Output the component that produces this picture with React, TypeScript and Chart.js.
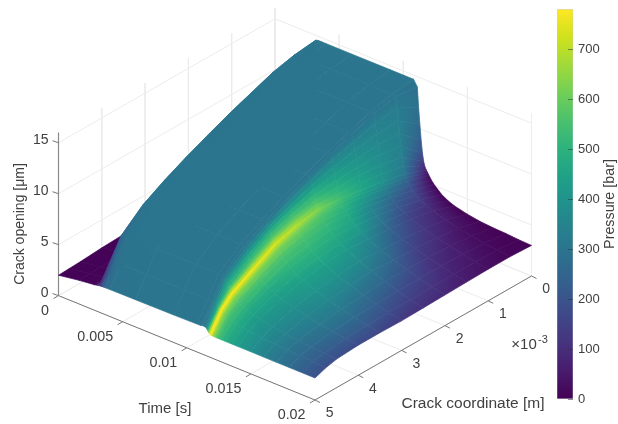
import React, { useEffect, useRef } from "react";
import { Chart, registerables } from "chart.js";

Chart.register(...registerables);

// ---------- data ----------
const crackCoords = [0, 0.5, 1, 1.5, 2, 2.5, 3, 3.5, 4, 4.5, 4.75, 5]; // x 10^-3 m
const timeValues = [
  0, 0.0016, 0.0028, 0.003, 0.0032, 0.0034, 0.0036, 0.004, 0.006, 0.009, 0.0108,
  0.0111, 0.0112, 0.0113, 0.0114, 0.0115, 0.0116, 0.0117, 0.0118, 0.0119,
  0.012, 0.0122, 0.0124, 0.0127, 0.013, 0.0135, 0.014, 0.015, 0.016, 0.017, 0.018, 0.019, 0.02,
];
const openingRows = [
  [2.6, 2.6, 2.55, 2.55, 2.5, 2.45, 2.4, 2.35, 2.25, 2.1, 2.05, 2.0],
  [2.9, 2.9, 2.85, 2.8, 2.8, 2.75, 2.7, 2.6, 2.5, 2.4, 2.36, 2.32],
  [3, 3, 3, 3, 3, 3, 3, 3, 2.9, 2.65, 2.57, 2.5],
  [3, 3, 3, 3, 3, 3, 3, 3, 3, 3, 2.75, 2.55],
  [14.55, 14.3, 13.8, 13, 12.2, 11.3, 10.35, 9.3, 8.1, 6.3, 4.45, 2.6],
  [14.6, 14.35, 13.85, 13.05, 12.25, 11.35, 10.4, 9.35, 8.15, 6.45, 4.55, 2.62],
  [14.6, 14.35, 13.85, 13.05, 12.25, 11.35, 10.4, 9.35, 8.15, 6.45, 4.55, 2.63],
  [14.6, 14.35, 13.85, 13.05, 12.25, 11.35, 10.4, 9.35, 8.15, 6.45, 4.55, 2.65],
  [14.6, 14.35, 13.85, 13.05, 12.25, 11.35, 10.4, 9.35, 8.15, 6.45, 4.55, 2.67],
  [14.6, 14.35, 13.85, 13.05, 12.25, 11.35, 10.4, 9.35, 8.15, 6.45, 4.55, 2.7],
  [14.6, 14.35, 13.85, 13.05, 12.25, 11.35, 10.4, 9.35, 8.15, 6.45, 4.55, 2.74],
  [14.0, 14.3, 13.85, 13.05, 12.25, 11.35, 10.4, 9.35, 8.15, 6.45, 4.55, 2.75],
  [12.0, 13.2, 12.9, 12.3, 11.7, 10.95, 10.1, 9.1, 7.9, 6.3, 4.5, 2.8],
  [10.4, 12.0, 11.9, 11.5, 11.05, 10.5, 9.75, 8.85, 7.65, 6.1, 4.45, 2.8],
  [8.9, 10.8, 10.9, 10.7, 10.4, 10.05, 9.4, 8.6, 7.4, 5.95, 4.4, 2.8],
  [7.7, 9.6, 9.95, 9.95, 9.8, 9.6, 9.05, 8.3, 7.15, 5.75, 4.3, 2.75],
  [6.9, 8.6, 9.0, 9.2, 9.2, 9.2, 8.7, 8.0, 6.85, 5.5, 4.2, 2.6],
  [6.45, 7.7, 8.2, 8.5, 8.65, 8.8, 8.35, 7.7, 6.5, 5.25, 4.1, 2.4],
  [6.2, 7.0, 7.5, 7.9, 8.2, 8.4, 8.0, 7.4, 6.2, 5.0, 4.0, 2.25],
  [6.0, 6.7, 7.2, 7.6, 7.95, 8.2, 7.85, 7.2, 6.05, 4.85, 3.9, 2.2],
  [5.8, 6.45, 6.95, 7.35, 7.7, 8.0, 7.65, 7.05, 5.9, 4.7, 3.7, 2.18],
  [5.4, 6.05, 6.55, 6.95, 7.3, 7.55, 7.3, 6.75, 5.65, 4.5, 3.6, 2.18],
  [5.1, 5.7, 6.25, 6.65, 7.0, 7.2, 7.0, 6.5, 5.45, 4.35, 3.5, 2.17],
  [4.75, 5.4, 5.9, 6.3, 6.6, 6.8, 6.6, 6.15, 5.2, 4.15, 3.4, 2.17],
  [4.4, 5.1, 5.6, 5.95, 6.2, 6.4, 6.2, 5.8, 5.0, 4.0, 3.3, 2.17],
  [4.05, 4.8, 5.25, 5.55, 5.8, 5.95, 5.75, 5.4, 4.7, 3.8, 3.2, 2.17],
  [3.8, 4.55, 4.95, 5.2, 5.4, 5.6, 5.4, 5.05, 4.4, 3.65, 3.1, 2.17],
  [3.5, 4.15, 4.5, 4.7, 4.8, 5.0, 4.8, 4.5, 4.05, 3.4, 2.95, 2.17],
  [3.3, 3.85, 4.15, 4.3, 4.4, 4.5, 4.35, 4.1, 3.75, 3.2, 2.85, 2.16],
  [3.2, 3.6, 3.85, 3.9, 4.0, 4.0, 3.9, 3.75, 3.5, 3.05, 2.75, 2.16],
  [3.15, 3.4, 3.55, 3.6, 3.6, 3.6, 3.5, 3.45, 3.3, 2.95, 2.7, 2.16],
  [3.05, 3.25, 3.3, 3.3, 3.3, 3.25, 3.2, 3.2, 3.1, 2.85, 2.6, 2.16],
  [3.0, 3.1, 3.1, 3.05, 3.0, 2.95, 2.9, 2.95, 2.95, 2.8, 2.55, 2.16],
];
const pressureRows = [
  [4, 4, 4, 4, 4, 4, 4, 4, 4, 4, 4, 4],
  [4, 4, 4, 4, 4, 4, 4, 4, 4, 4, 4, 4],
  [8, 8, 8, 8, 8, 8, 8, 8, 8, 10, 9, 8],
  [300, 300, 300, 300, 300, 300, 300, 300, 300, 150, 80, 50],
  [300, 300, 300, 300, 300, 300, 300, 300, 300, 250, 170, 110],
  [300, 300, 300, 300, 300, 300, 300, 300, 300, 285, 240, 190],
  [300, 300, 300, 300, 300, 300, 300, 300, 300, 298, 285, 250],
  [300, 300, 300, 300, 300, 300, 300, 300, 300, 300, 298, 290],
  [300, 300, 300, 300, 300, 300, 300, 300, 300, 300, 300, 300],
  [300, 300, 300, 300, 300, 300, 300, 300, 300, 300, 300, 300],
  [300, 300, 300, 300, 300, 300, 300, 300, 300, 300, 300, 300],
  [295, 300, 300, 300, 300, 300, 300, 300, 300, 300, 300, 300],
  [285, 325, 335, 345, 350, 355, 350, 340, 330, 325, 310, 300],
  [265, 335, 355, 375, 395, 410, 410, 400, 380, 365, 340, 300],
  [230, 340, 365, 395, 430, 460, 475, 470, 450, 430, 390, 305],
  [190, 340, 375, 415, 460, 505, 525, 520, 500, 475, 440, 350],
  [130, 335, 385, 435, 490, 540, 570, 570, 550, 530, 520, 450],
  [85, 320, 392, 452, 520, 585, 635, 650, 655, 650, 640, 630],
  [60, 300, 395, 465, 540, 630, 690, 735, 760, 778, 775, 760],
  [42, 270, 365, 445, 525, 600, 650, 680, 700, 715, 740, 775],
  [25, 240, 340, 425, 510, 570, 610, 630, 640, 640, 650, 680],
  [15, 205, 300, 395, 490, 540, 575, 590, 590, 585, 590, 610],
  [10, 180, 270, 370, 475, 520, 545, 555, 550, 540, 540, 550],
  [8, 155, 235, 345, 455, 500, 525, 530, 520, 515, 515, 515],
  [6, 140, 210, 330, 440, 480, 500, 500, 480, 480, 480, 480],
  [5, 105, 175, 285, 400, 450, 470, 470, 450, 445, 450, 455],
  [4, 85, 150, 250, 360, 420, 440, 440, 420, 415, 420, 430],
  [4, 60, 120, 195, 300, 370, 395, 400, 385, 375, 380, 385],
  [4, 40, 92, 150, 240, 310, 340, 360, 350, 340, 340, 340],
  [3, 25, 70, 115, 190, 250, 285, 315, 315, 300, 300, 300],
  [3, 20, 55, 90, 150, 190, 230, 265, 275, 265, 268, 270],
  [3, 15, 42, 72, 115, 145, 180, 215, 225, 225, 228, 230],
  [3, 12, 30, 55, 85, 105, 130, 160, 175, 185, 188, 190],
];
const timeTicks = [0, 0.005, 0.01, 0.015, 0.02];
const timeTickLabels = ["0", "0.005", "0.01", "0.015", "0.02"];
const crackTicks = [0, 1, 2, 3, 4, 5];
const openingTicks = [0, 5, 10, 15];
const openingTop = 16;
const pressureMax = 780;
const viridis = [
  "#440154", "#481b6d", "#46337e", "#3f4889", "#365c8d", "#2e6e8e", "#277f8e", "#21908c",
  "#1fa187", "#2db27d", "#4ac16d", "#71cf57", "#a0da39", "#d0e11c", "#fde725",
];

// ---------- 3D view: data -> page position ----------
const project = (t: number, c: number, z: number) => ({
  x: 275 + (256.5 * t) / 0.02 - (216.5 * c) / 5,
  y: 171.6 + (104.4 * t) / 0.02 + (124 * c) / 5 - 10.19 * z,
});

const rgb = (hex: string) => [1, 3, 5].map((i) => parseInt(hex.slice(i, i + 2), 16));
const colorOf = (p: number) => {
  const f = (Math.min(Math.max(p, 0), pressureMax) / pressureMax) * (viridis.length - 1);
  const i = Math.min(Math.floor(f), viridis.length - 2);
  const a = rgb(viridis[i]);
  const b = rgb(viridis[i + 1]);
  const m = a.map((v, k) => Math.round(v + (b[k] - v) * (f - i)));
  return `rgb(${m[0]},${m[1]},${m[2]})`;
};

// colour of one surface cell: the plane through its four corner pressures, as a canvas gradient
const cellPaint = (
  ctx: CanvasRenderingContext2D,
  pts: { x: number; y: number }[],
  ps: number[]
) => {
  const [a, b, c, d] = pts; // a-b: first time, d-c: next time; a-d: first crack, b-c: next crack
  const mean = (ps[0] + ps[1] + ps[2] + ps[3]) / 4;
  const lo = Math.min(...ps);
  const hi = Math.max(...ps);
  if (hi - lo < 0.5) return colorOf(mean);
  const mx = (a.x + b.x + c.x + d.x) / 4;
  const my = (a.y + b.y + c.y + d.y) / 4;
  const ux = (d.x + c.x - a.x - b.x) / 2;
  const uy = (d.y + c.y - a.y - b.y) / 2;
  const vx = (b.x + c.x - a.x - d.x) / 2;
  const vy = (b.y + c.y - a.y - d.y) / 2;
  const dT = (ps[3] + ps[2] - ps[0] - ps[1]) / 2;
  const dC = (ps[1] + ps[2] - ps[0] - ps[3]) / 2;
  const det = ux * vy - uy * vx;
  if (Math.abs(det) < 1) return colorOf(mean);
  const gx = (dT * vy - dC * uy) / det;
  const gy = (-dT * vx + dC * ux) / det;
  const g = Math.hypot(gx, gy);
  if (g < 1e-6) return colorOf(mean);
  const ex = gx / g;
  const ey = gy / g;
  const s = pts.map((q) => (q.x - mx) * ex + (q.y - my) * ey);
  const s0 = Math.min(...s);
  const s1 = Math.max(...s);
  const grad = ctx.createLinearGradient(mx + ex * s0, my + ey * s0, mx + ex * s1, my + ey * s1);
  for (let k = 0; k <= 6; k++) {
    const at = s0 + ((s1 - s0) * k) / 6;
    const val = Math.min(hi, Math.max(lo, mean + g * at));
    grad.addColorStop(k / 6, colorOf(val));
  }
  return grad;
};

const FAMILY = '"Liberation Sans", Arial, sans-serif';
const INK = "#404040";
const GRID = "#ececec";
const AXIS = "#777777";

const putText = (
  c: CanvasRenderingContext2D,
  s: string,
  x: number,
  y: number,
  size = 14,
  align: CanvasTextAlign = "center",
  rot = 0
) => {
  c.save();
  c.translate(x, y);
  c.rotate(rot);
  c.font = `${size}px ${FAMILY}`;
  c.fillStyle = INK;
  c.textAlign = align;
  c.textBaseline = "middle";
  c.fillText(s, 0, 0);
  c.restore();
};

export default function App() {
  const mainRef = useRef<HTMLCanvasElement>(null);
  const barRef = useRef<HTMLCanvasElement>(null);

  useEffect(() => {
    document.body.style.margin = "0";
    const ctx = mainRef.current!.getContext("2d")!;
    const datasets: any[] = [];
    let seq = 0;
    const seg = (pts: { x: number; y: number }[], color: string, width: number) => {
      datasets.push({
        data: pts,
        borderColor: color,
        borderWidth: width,
        pointRadius: 0,
        fill: false,
        order: -seq++,
      });
    };

    // walls and floor
    openingTicks.forEach((z) => {
      seg([project(0, 5, z), project(0, 0, z), project(0.02, 0, z)], GRID, 1);
    });
    crackTicks.forEach((c) => {
      seg([project(0, c, openingTop), project(0, c, 0), project(0.02, c, 0)], GRID, 1);
    });
    timeTicks.forEach((t) => {
      seg([project(t, 0, openingTop), project(t, 0, 0), project(t, 5, 0)], GRID, 1);
    });

    // axes and ticks
    seg([project(0, 5, 0), project(0, 5, openingTop)], "#8a8a8a", 1.2);
    seg([project(0, 5, 0), project(0.02, 5, 0)], AXIS, 1);
    seg([project(0.02, 5, 0), project(0.02, 0, 0)], AXIS, 1);
    openingTicks.forEach((z) => {
      const p = project(0, 5, z);
      seg([p, { x: p.x - 6, y: p.y - 2 }], AXIS, 1);
    });
    timeTicks.forEach((t) => {
      const p = project(t, 5, 0);
      seg([p, { x: p.x - 5, y: p.y + 3 }], AXIS, 1);
    });
    crackTicks.forEach((c) => {
      const p = project(0.02, c, 0);
      seg([p, { x: p.x + 5, y: p.y + 2.5 }], AXIS, 1);
    });

    // surface cells, back to front
    for (let i = 0; i < timeValues.length - 1; i++) {
      for (let j = 0; j < crackCoords.length - 1; j++) {
        const a = project(timeValues[i], crackCoords[j], openingRows[i][j]);
        const b = project(timeValues[i], crackCoords[j + 1], openingRows[i][j + 1]);
        const c = project(timeValues[i + 1], crackCoords[j + 1], openingRows[i + 1][j + 1]);
        const d = project(timeValues[i + 1], crackCoords[j], openingRows[i + 1][j]);
        const paint = cellPaint(ctx, [a, b, c, d], [
          pressureRows[i][j],
          pressureRows[i][j + 1],
          pressureRows[i + 1][j + 1],
          pressureRows[i + 1][j],
        ]);
        datasets.push({
          data: [a, b, c, d, a],
          fill: "shape",
          backgroundColor: paint,
          borderColor: paint,
          borderWidth: 0.7,
          borderJoinStyle: "round",
          pointRadius: 0,
          tension: 0,
          order: -seq++,
        });
      }
    }

    const main = new Chart(ctx, {
      type: "line",
      data: { datasets },
      options: {
        animation: false,
        responsive: false,
        events: [],
        layout: { padding: 0 },
        plugins: { legend: { display: false }, tooltip: { enabled: false } },
        scales: {
          x: { type: "linear", min: 0, max: 618, display: false },
          y: { type: "linear", min: 0, max: 424, reverse: true, display: false },
        },
      },
      plugins: [
        {
          id: "axisText",
          afterDraw(chart: any) {
            const c = chart.ctx;
            openingTicks.forEach((z) => {
              const p = project(0, 5, z);
              putText(c, String(z), 48.5, p.y - 2.5, 14, "right");
            });
            timeTicks.forEach((t, i) => {
              const p = project(t, 5, 0);
              putText(c, timeTickLabels[i], p.x - 9.5, p.y + 15.5, 14.3, "right");
            });
            crackTicks.forEach((v) => {
              const p = project(0.02, v, 0);
              putText(c, String(v), p.x + 14.7, p.y + 13.5, 14);
            });
            putText(c, "Time [s]", 165, 409, 15);
            putText(c, "Crack coordinate [m]", 473, 404, 15.5);
            putText(c, "Crack opening [\u03bcm]", 20, 224, 14, "center", -Math.PI / 2);
            putText(c, "\u00d710", 524, 345, 15);
            putText(c, "-3", 543, 340, 11);
          },
        },
      ],
    } as any);

    const bctx = barRef.current!.getContext("2d")!;
    const grad = bctx.createLinearGradient(0, 399.3, 0, 9.3);
    viridis.forEach((col, i) => grad.addColorStop(i / (viridis.length - 1), col));
    const bar = new Chart(bctx, {
      type: "bar",
      data: {
        labels: ["Pressure"],
        datasets: [
          {
            data: [[0, pressureMax]],
            backgroundColor: grad,
            borderColor: "#c4c4c4",
            borderWidth: 0.6,
            borderSkipped: false,
            barPercentage: 1,
            categoryPercentage: 1,
          },
        ],
      },
      options: {
        animation: false,
        responsive: false,
        events: [],
        layout: { padding: { left: 17, top: 9.3, bottom: 424 - 399.3, right: 0 } },
        plugins: { legend: { display: false }, tooltip: { enabled: false } },
        scales: {
          x: { display: false },
          y: {
            position: "right",
            min: 0,
            max: pressureMax,
            afterFit(s: any) {
              s.width = 45;
              s.paddingTop = 0;
              s.paddingBottom = 0;
            },
            border: { display: false },
            grid: { drawOnChartArea: false, drawTicks: false },
            ticks: {
              stepSize: 100,
              includeBounds: false,
              padding: 5,
              color: INK,
              font: { family: FAMILY, size: 13 },
            },
          },
        },
      },
      plugins: [
        {
          id: "barMarks",
          afterDraw(chart: any) {
            const c = chart.ctx;
            const s = chart.scales.y;
            const right = chart.chartArea.right;
            c.save();
            c.strokeStyle = "rgba(40,60,50,0.55)";
            c.lineWidth = 1;
            s.ticks.forEach((t: any) => {
              const y = Math.round(s.getPixelForValue(t.value)) + 0.5;
              c.beginPath();
              c.moveTo(right - 5, y);
              c.lineTo(right, y);
              c.stroke();
            });
            c.restore();
            putText(c, "Pressure [bar]", 70, 204, 14.3, "center", -Math.PI / 2);
          },
        },
      ],
    } as any);

    return () => {
      main.destroy();
      bar.destroy();
    };
  }, []);

  return (
    <div style={{ position: "absolute", left: 0, top: 0, width: 618, height: 424, overflow: "hidden", background: "#fff" }}>
      <canvas ref={mainRef} width={618} height={424} style={{ position: "absolute", left: 0, top: 0 }} />
      <canvas ref={barRef} width={78} height={424} style={{ position: "absolute", left: 540, top: 0 }} />
    </div>
  );
}
